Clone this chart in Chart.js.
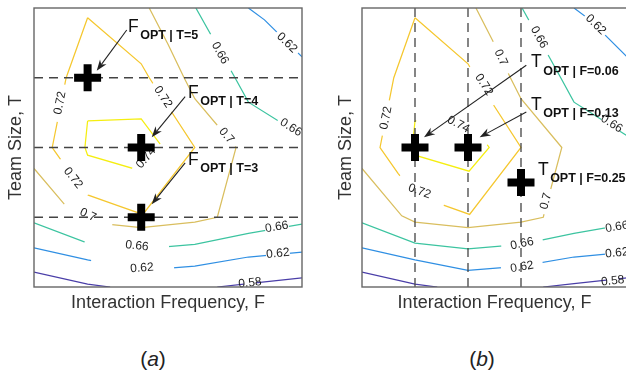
<!DOCTYPE html>
<html>
<head>
<meta charset="utf-8">
<script src="https://cdn.jsdelivr.net/npm/chart.js@4.4.0/dist/chart.umd.min.js"></script>
<style>
html, body { margin: 0; padding: 0; background: #fff; }
body { width: 626px; height: 372px; overflow: hidden; position: relative; font-family: "Liberation Sans", Arial, Helvetica, sans-serif; }
canvas { position: absolute; top: 0; }
.cap { position: absolute; top: 346px; height: 26px; line-height: 26px; font-size: 21px; color: #222; transform: translateX(-50%); white-space: nowrap; }
</style>
</head>
<body>
<canvas id="ca" width="313" height="330" style="left:0"></canvas>
<canvas id="cb" width="320" height="330" style="left:313px"></canvas>
<div class="cap" style="left:153px">(<i>a</i>)</div>
<div class="cap" style="left:482px">(<i>b</i>)</div>
<script>
// contour lines, points are [F grid index, team size T]
const c058Left  = [[0, 2.215], [1, 2.04], [1.42, 2.0]];
const c058Right = [[3.42, 2.0], [4, 2.05], [5, 2.13]];
const c062Low   = [[0, 2.56], [1, 2.39], [2, 2.24], [3, 2.3], [4, 2.43], [5, 2.5]];
const c062High  = [[4.0, 6.0], [4.3, 5.83], [5, 5.3]];
const c066Low   = [[0, 2.92], [1, 2.63], [2, 2.545], [3, 2.61], [4, 2.77], [5, 2.9]];
const c066High  = [[3.02, 6.0], [3.75, 5.0], [4, 4.65], [5, 4.17]];
const c070      = [[2.15, 6.0], [2.5, 5.48], [2.8, 5.0], [3.0, 4.7], [3.77, 4.0], [3.42, 3.0],
                   [3.0, 2.93], [2.0, 2.85], [1.0, 2.93], [0.75, 3.02], [0, 3.7]];
const c072      = [[1.0, 5.86], [2.0, 5.2], [2.15, 5.0], [3.0, 4.0], [2.03, 3.04], [1.55, 3.17],
                   [1.0, 3.32], [0.68, 3.63], [0.34, 4.0], [0.6, 5.0], [1.0, 5.86]];
const c074      = [[1.0, 4.38], [2.0, 4.41], [2.4, 4.0], [2.02, 3.66], [1.0, 3.89], [0.95, 4.0], [1.0, 4.38]];

// optima
const teamSizes = [5, 4, 3];          // (a) rows
const fOptIndex = [1, 2, 2];
const freqIndex = [1, 2, 3];          // (b) columns
const freqLabels = ['0.06', '0.13', '0.25'];
const tOpt = [4, 4, 3.5];

const contours = [
  {level: 0.58, pts: c058Left}, {level: 0.58, pts: c058Right},
  {level: 0.62, pts: c062Low}, {level: 0.62, pts: c062High},
  {level: 0.66, pts: c066Low}, {level: 0.66, pts: c066High},
  {level: 0.7, pts: c070}, {level: 0.72, pts: c072}, {level: 0.74, pts: c074}
];
const levelColor = {0.58: '#4a3ea8', 0.62: '#2f8fe3', 0.66: '#3cc4a0', 0.7: '#d9be5e', 0.72: '#f5c72e', 0.74: '#f5ee10'};

// inline label placement (data coords) and gap cut in the line (px)
const labelsA = [
  {level: 0.72, f: 0.485, t: 4.638, gap: 38},
  {level: 0.72, f: 2.407, t: 4.724, gap: 34},
  {level: 0.66, f: 3.47, t: 5.355, gap: 42},
  {level: 0.62, f: 4.72, t: 5.50, gap: 30},
  {level: 0.66, f: 4.795, t: 4.287, gap: 30},
  {level: 0.7, f: 3.59, t: 4.17, gap: 28},
  {level: 0.74, f: 2.09, t: 3.85, gap: 46},
  {level: 0.72, f: 0.728, t: 3.563, gap: 45},
  {level: 0.7, f: 1.007, t: 3.032, gap: 55},
  {level: 0.66, f: 1.92, t: 2.588, gap: 85, shift: -10},
  {level: 0.62, f: 2.015, t: 2.272, gap: 84, shift: -10},
  {level: 0.66, f: 4.53, t: 2.86, gap: 24},
  {level: 0.62, f: 4.55, t: 2.48, gap: 24},
  {level: 0.58, f: 4.03, t: 2.057, gap: 12}
];
const labelsB = [
  {level: 0.72, f: 0.453, t: 4.423, gap: 36},
  {level: 0.74, f: 1.82, t: 4.33, gap: 84, rot: 28},
  {level: 0.72, f: 2.30, t: 4.90, gap: 45},
  {level: 0.7, f: 2.62, t: 5.29, gap: 35},
  {level: 0.66, f: 3.34, t: 5.58, gap: 40},
  {level: 0.62, f: 4.41, t: 5.76, gap: 28},
  {level: 0.66, f: 4.71, t: 4.34, gap: 22},
  {level: 0.72, f: 1.085, t: 3.37, gap: 55},
  {level: 0.7, f: 3.47, t: 3.23, gap: 26},
  {level: 0.66, f: 3.02, t: 2.62, gap: 42},
  {level: 0.62, f: 3.02, t: 2.287, gap: 42},
  {level: 0.66, f: 4.81, t: 2.86, gap: 24},
  {level: 0.62, f: 4.81, t: 2.487, gap: 24},
  {level: 0.58, f: 4.73, t: 2.086, gap: 12}
];

const FONT = '"Liberation Sans", Arial, Helvetica, sans-serif';
Chart.defaults.font.family = FONT;

function nearestOn(poly, q) {
  let best = null, acc = 0;
  for (let i = 0; i < poly.length - 1; i++) {
    const a = poly[i], b = poly[i + 1];
    const dx = b.x - a.x, dy = b.y - a.y, len = Math.hypot(dx, dy);
    if (!len) continue;
    let u = ((q.x - a.x) * dx + (q.y - a.y) * dy) / (len * len);
    u = Math.max(0, Math.min(1, u));
    const d = Math.hypot(q.x - (a.x + u * dx), q.y - (a.y + u * dy));
    if (!best || d < best.d) best = {d: d, s: acc + u * len, ang: Math.atan2(dy, dx)};
    acc += len;
  }
  return best;
}

function subPath(poly, s0, s1) {
  const out = [];
  let acc = 0;
  for (let i = 0; i < poly.length - 1; i++) {
    const a = poly[i], b = poly[i + 1];
    const len = Math.hypot(b.x - a.x, b.y - a.y);
    const lo = Math.max(s0, acc), hi = Math.min(s1, acc + len);
    if (len && hi > lo) {
      const u0 = (lo - acc) / len, u1 = (hi - acc) / len;
      if (!out.length) out.push({x: a.x + u0 * (b.x - a.x), y: a.y + u0 * (b.y - a.y)});
      out.push({x: a.x + u1 * (b.x - a.x), y: a.y + u1 * (b.y - a.y)});
    }
    acc += len;
  }
  return out;
}

function drawLabels(chart, labels) {
  const ctx = chart.ctx, xs = chart.scales.x, ys = chart.scales.y;
  const px = p => ({x: xs.getPixelForValue(p[0]), y: ys.getPixelForValue(p[1])});
  ctx.save();
  labels.forEach(lb => {
    const q = px([lb.f, lb.t]);
    let best = null;
    contours.filter(c => c.level === lb.level).forEach(c => {
      const poly = c.pts.map(px);
      const r = nearestOn(poly, q);
      if (r && (!best || r.d < best.d)) { r.poly = poly; best = r; }
    });
    if (!best) return;
    const mid = best.s + (lb.shift || 0);
    const cut = subPath(best.poly, mid - lb.gap / 2, mid + lb.gap / 2);
    ctx.strokeStyle = '#fff';
    ctx.lineWidth = 4;
    ctx.lineJoin = 'round';
    ctx.beginPath();
    cut.forEach((p, i) => i ? ctx.lineTo(p.x, p.y) : ctx.moveTo(p.x, p.y));
    ctx.stroke();

    let ang = lb.rot !== undefined ? lb.rot * Math.PI / 180 : best.ang;
    if (ang > Math.PI / 2) ang -= Math.PI;
    if (ang < -Math.PI / 2) ang += Math.PI;
    ctx.save();
    ctx.translate(q.x, q.y);
    ctx.rotate(ang);
    ctx.fillStyle = '#1e1e1e';
    ctx.font = '12px ' + FONT;
    ctx.textAlign = 'center';
    ctx.textBaseline = 'middle';
    ctx.fillText(String(lb.level), 0, 0);
    ctx.restore();
  });
  ctx.restore();
}

function labelPlugin(labels) {
  return {
    id: 'clabels',
    beforeDatasetsDraw(chart) { chart.$lblDone = false; },
    beforeDatasetDraw(chart, args) {
      if (chart.$lblDone || !chart.data.datasets[args.index].overlay) return;
      chart.$lblDone = true;
      drawLabels(chart, labels);
    }
  };
}

function drawArrow(ctx, a, b) {
  const ang = Math.atan2(b.y - a.y, b.x - a.x), c = Math.cos(ang), s = Math.sin(ang);
  const L = 11, W = 4;
  ctx.beginPath();
  ctx.moveTo(a.x, a.y);
  ctx.lineTo(b.x - 0.7 * L * c, b.y - 0.7 * L * s);
  ctx.stroke();
  ctx.beginPath();
  ctx.moveTo(b.x, b.y);
  ctx.lineTo(b.x - L * c + W * s, b.y - L * s - W * c);
  ctx.lineTo(b.x - 0.7 * L * c, b.y - 0.7 * L * s);
  ctx.lineTo(b.x - L * c - W * s, b.y - L * s + W * c);
  ctx.closePath();
  ctx.fill();
}

function annPlugin(items) {
  return {
    id: 'ann',
    afterDatasetsDraw(chart) {
      const {ctx, chartArea: ca} = chart;
      const xs = chart.scales.x, ys = chart.scales.y;
      const px = p => ({x: xs.getPixelForValue(p[0]), y: ys.getPixelForValue(p[1])});
      ctx.save();
      ctx.strokeStyle = '#666';
      ctx.lineWidth = 1.4;
      ctx.strokeRect(ca.left, ca.top, ca.right - ca.left, ca.bottom - ca.top);
      items.forEach(it => {
        ctx.strokeStyle = '#222';
        ctx.fillStyle = '#222';
        ctx.lineWidth = 1.1;
        if (it.from) drawArrow(ctx, px(it.from), px(it.to));
        const p = px(it.at);
        ctx.fillStyle = '#111';
        ctx.textAlign = 'left';
        ctx.textBaseline = 'alphabetic';
        ctx.font = '17.5px ' + FONT;
        ctx.fillText(it.main, p.x, p.y);
        const w = ctx.measureText(it.main).width;
        ctx.font = 'bold 12.5px ' + FONT;
        ctx.fillText(it.sub, p.x + w + 1.5, p.y + 7.5);
      });
      ctx.restore();
    }
  };
}

function contourSets() {
  return contours.map(c => ({
    data: c.pts.map(p => ({x: p[0], y: p[1]})),
    showLine: true, borderColor: levelColor[c.level], borderWidth: 1.25,
    pointRadius: 0, fill: false, order: 3
  }));
}

function dashed(pts) {
  return {data: pts, showLine: true, borderColor: '#444', borderWidth: 1.3, borderDash: [9, 6],
          pointRadius: 0, fill: false, order: 2, overlay: true};
}

function crosses(pts) {
  return {data: pts, showLine: false, pointStyle: 'cross', pointRadius: 13.5, borderWidth: 8,
          borderColor: '#000', backgroundColor: '#000', order: 1, overlay: true};
}

function makeChart(id, datasets, lay, items, labels) {
  return new Chart(document.getElementById(id), {
    type: 'scatter',
    data: {datasets: datasets},
    options: {
      responsive: false,
      animation: false,
      events: [],
      layout: {padding: lay.pad, autoPadding: false},
      plugins: {legend: {display: false}, tooltip: {enabled: false}},
      scales: {
        x: {
          type: 'linear', min: 0, max: 5,
          ticks: {display: false}, grid: {display: false, drawTicks: false}, border: {display: false},
          title: {display: true, text: 'Interaction Frequency, F', color: '#333', font: {size: 18},
                  padding: {top: lay.xt, bottom: 4}}
        },
        y: {
          type: 'linear', min: 2, max: 6,
          ticks: {display: false}, grid: {display: false, drawTicks: false}, border: {display: false},
          title: {display: true, text: 'Team Size, T', color: '#333', font: {size: 18},
                  padding: {top: 4, bottom: lay.yb}}
        }
      }
    },
    plugins: [labelPlugin(labels), annPlugin(items)]
  });
}

// (a) optimal F for each team size
const dsA = contourSets()
  .concat(teamSizes.map(t => dashed([{x: 0, y: t}, {x: 5, y: t}])))
  .concat([crosses(teamSizes.map((t, i) => ({x: fOptIndex[i], y: t})))]);
const itemsA = [
  {main: 'F', sub: 'OPT | T=' + teamSizes[0], at: [1.754, 5.656], from: [1.73, 5.685], to: [1.17, 5.10]},
  {main: 'F', sub: 'OPT | T=' + teamSizes[1], at: [2.873, 4.71], from: [2.82, 4.73], to: [2.196, 4.146]},
  {main: 'F', sub: 'OPT | T=' + teamSizes[2], at: [2.873, 3.75], from: [2.82, 3.78], to: [2.196, 3.186]}
];
makeChart('ca', dsA, {pad: {left: 1.2, right: 11, top: 8, bottom: 11.9}, xt: 5.5, yb: 7.2}, itemsA, labelsA);

// (b) optimal T for each frequency
const dsB = contourSets()
  .concat(freqIndex.map(f => dashed([{x: f, y: 2}, {x: f, y: 6}])))
  .concat([crosses(freqIndex.map((f, i) => ({x: f, y: tOpt[i]})))]);
const itemsB = [
  {main: 'T', sub: 'OPT | F=' + freqLabels[0], at: [3.19, 5.154], from: [3.10, 5.18], to: [1.17, 4.146]},
  {main: 'T', sub: 'OPT | F=' + freqLabels[1], at: [3.19, 4.538], from: [3.10, 4.51], to: [2.22, 4.146]},
  {main: 'T', sub: 'OPT | F=' + freqLabels[2], at: [3.32, 3.606]}
];
makeChart('cb', dsB, {pad: {left: 18.7, right: 6, top: 8, bottom: 11.9}, xt: 5.5, yb: 4.7}, itemsB, labelsB);
</script>
</body>
</html>
